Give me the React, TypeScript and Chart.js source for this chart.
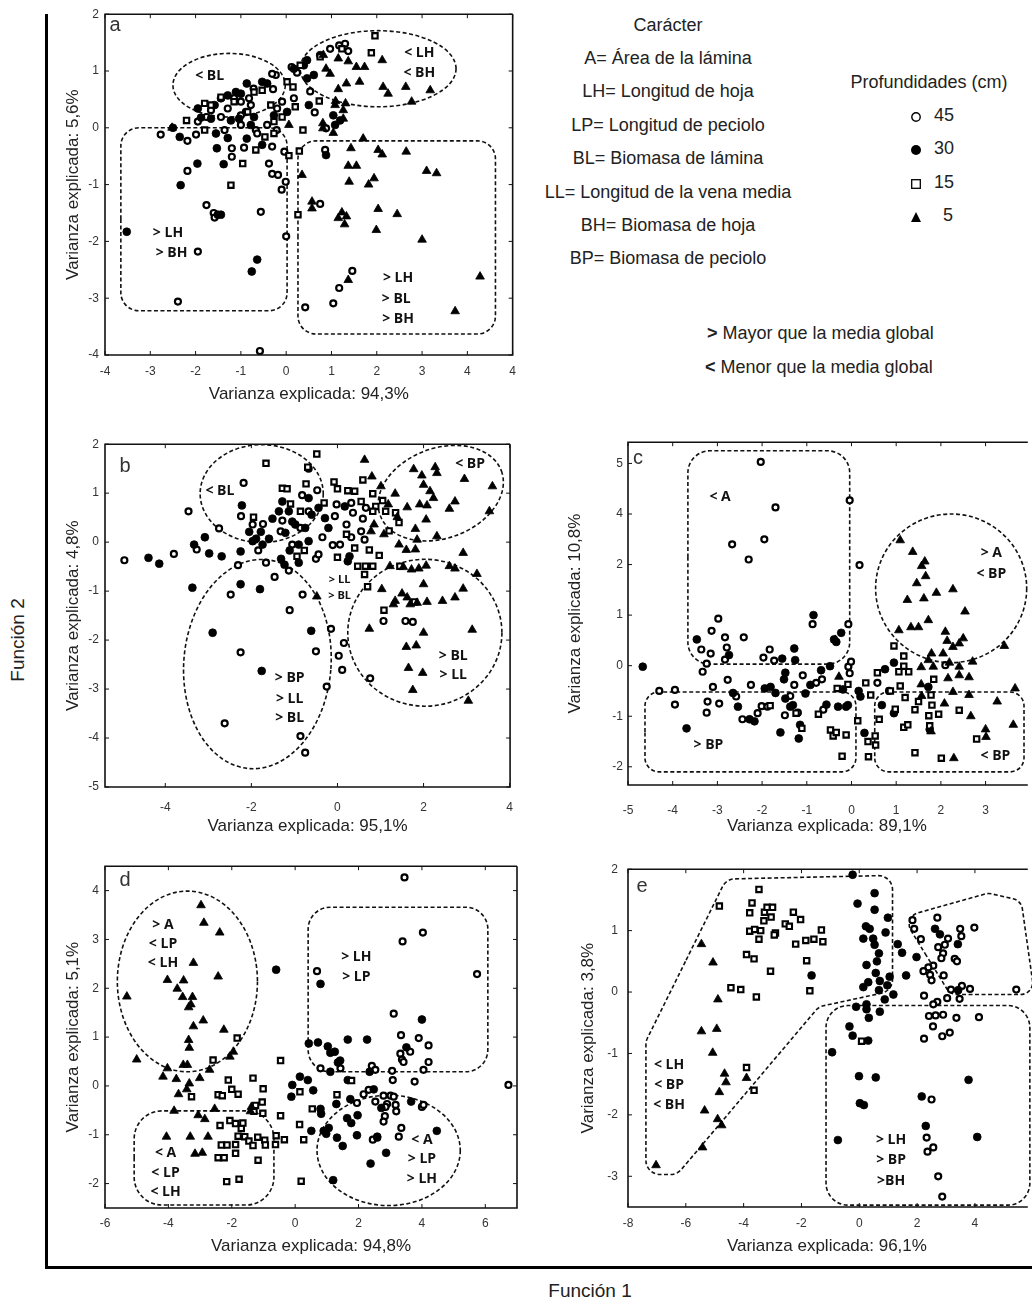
import React, { useEffect, useRef } from "react";
import { Chart, registerables } from "chart.js";

Chart.register(...registerables);

type P = [number, number];

const FONT = "'Liberation Sans', Arial, Helvetica, sans-serif";
const LABEL_FONT = "'Open Sans', 'DejaVu Sans', sans-serif";
const TITLE_SIZE = 17;
const TITLE_LH = Math.round(TITLE_SIZE * 1.2);
const PAD_TOP = 12;

// ---------------- Panel a ----------------
const aXTicks = [-4, -3, -2, -1, 0, 1, 2, 3, 4, 5];
const aXTickLabels = ["-4", "-3", "-2", "-1", "0", "1", "2", "3", "4", "4"];
const aYTicks = [-4, -3, -2, -1, 0, 1, 2];
const aYTickLabels = ["-4", "-3", "-2", "-1", "0", "1", "2"];
const a45: P[] = [[-2.77,-0.12],[-2.18,-0.23],[-2.18,-0.76],[-1.76,-1.36],[-1.6,-1.5],[-1.58,-1.58],[-1.95,-2.18],[-2.39,-3.06],[-1.2,-0.36],[-1.2,-0.51],[-0.93,-0.35],[-0.67,-0.04],[-0.56,-1.48],[-0.58,-3.93],[-0.38,-0.63],[-0.31,-0.33],[-0.31,-0.81],[-0.18,-0.83],[-0.1,-1.09],[-0.01,-0.95],[-0.04,-0.42],[0.0,-1.91],[0.42,-3.16],[0.75,-1.34],[0.86,-0.39],[1.17,-2.82],[1.04,-3.09],[1.46,-2.52],[0.88,-0.01],[0.63,0.27],[0.53,0.64],[0.17,0.52],[0.12,1.07],[0.24,0.97],[-0.23,0.93],[-0.31,0.95],[-0.09,0.46],[-0.2,0.34],[-0.29,0.68],[-0.72,0.69],[-0.82,0.52],[-0.89,0.28],[-0.78,0.4],[-1.0,0.46],[-1.15,0.52],[-1.29,0.34],[-1.44,0.19],[-1.66,0.31],[-1.76,0.19],[-1.95,0.11],[-1.99,-0.12],[-1.0,0.05],[0.97,1.39],[1.17,1.45],[1.3,1.48],[1.37,1.35],[-0.42,0.05],[-0.64,-0.1],[-1.0,0.22],[-0.21,-0.04],[-1.36,-0.04]];
const a30: P[] = [[-3.52,-1.83],[-2.33,-1.01],[-1.96,-0.63],[-2.35,-0.16],[-2.5,0.0],[-1.53,-0.36],[-1.44,-1.53],[-1.51,-1.53],[-1.38,-0.64],[-1.29,-0.18],[-1.55,-0.1],[-0.64,-2.32],[-0.76,-2.53],[-0.87,-0.19],[-0.53,-0.3],[-1.95,0.34],[-1.88,0.18],[-1.66,0.16],[-1.44,0.52],[-1.29,0.57],[-1.11,0.63],[-1.0,0.6],[-0.87,0.78],[-1.04,0.16],[-0.71,0.19],[-0.53,0.81],[-0.42,0.78],[-0.27,0.22],[0.02,0.28],[0.17,1.04],[0.39,1.1],[0.46,1.19],[0.61,0.93],[0.5,0.4],[0.88,-0.48],[1.04,0.22],[1.19,0.13],[1.08,0.05],[0.75,1.28],[0.46,0.87],[-0.78,0.05],[-1.22,0.13],[-1.58,0.4]];
const a15: P[] = [[-2.2,0.13],[-1.8,0.43],[-1.8,-0.04],[-1.44,0.54],[-1.22,-1.01],[-0.96,-0.63],[-0.67,-0.39],[-0.47,-0.16],[-0.27,-0.1],[-0.27,0.11],[-0.09,0.19],[0.06,-0.49],[0.29,-0.41],[0.26,-1.53],[0.37,-0.04],[0.2,0.37],[0.15,0.72],[0.31,1.1],[0.73,0.47],[0.75,1.25],[1.88,1.32],[1.23,1.39],[1.96,1.62],[-0.53,0.66],[-1.15,0.46],[-1.66,0.4],[-0.85,0.28],[-0.34,0.4],[-0.71,0.63],[0.02,0.81]];
const a5: P[] = [[-2.52,0.0],[0.06,0.05],[0.35,-0.83],[0.57,-1.3],[0.57,-1.42],[0.81,0.08],[0.81,-0.01],[1.04,-0.09],[1.26,0.31],[1.31,0.43],[1.09,0.47],[1.15,0.68],[1.33,0.78],[1.15,1.22],[0.88,1.04],[0.97,0.95],[0.82,1.28],[1.37,1.17],[1.55,1.07],[1.73,1.07],[1.62,0.81],[2.14,0.72],[2.25,0.6],[2.64,0.72],[2.77,0.46],[3.18,0.66],[2.12,1.19],[1.7,-0.19],[1.43,-0.36],[1.39,-0.95],[1.37,-0.67],[1.55,-0.67],[2.03,-0.39],[2.12,-0.47],[2.65,-0.42],[1.94,-0.89],[1.82,-1.0],[3.1,-0.76],[3.32,-0.8],[2.03,-1.43],[2.45,-1.52],[1.99,-1.8],[3.0,-1.97],[1.23,-1.49],[1.33,-1.56],[1.29,-1.7],[1.15,-1.59],[1.37,-2.68],[4.28,-2.62],[3.73,-3.23],[1.08,0.4],[1.26,0.16]];

// ---------------- Panel b ----------------
const bXTicks = [-4, -2, 0, 2, 4];
const bXTickLabels = ["-4", "-2", "0", "2", "4"];
const bYTicks = [-5, -4, -3, -2, -1, 0, 1, 2];
const bYTickLabels = ["-5", "-4", "-3", "-2", "-1", "0", "1", "2"];
const b45: P[] = [[-4.95,-0.37],[-3.8,-0.24],[-3.46,0.63],[-3.27,-0.15],[-2.75,0.28],[-2.24,0.53],[-2.18,1.21],[-2.31,-0.47],[-2.48,-1.07],[-2.25,-2.25],[-2.62,-3.7],[-1.84,-0.17],[-1.66,-0.42],[-1.46,-0.71],[-1.13,-0.58],[-1.11,-1.39],[-0.81,-1.07],[-0.86,-3.96],[-0.75,-4.3],[-0.5,-2.23],[-0.25,-2.95],[-0.15,-1.77],[0.03,-2.32],[0.15,-2.06],[0.11,-2.61],[-0.5,-0.34],[-0.44,-0.25],[-0.35,0.1],[-0.11,-0.06],[0.06,-0.05],[0.76,-2.78],[1.75,-1.63],[1.58,-1.61],[1.07,-1.61],[-0.67,1.5],[-0.82,0.96],[-0.47,1.06],[-0.67,0.63],[-0.86,0.29],[-1.28,0.44],[-1.32,0.22],[-1.73,0.37],[-1.97,0.36],[0.32,0.8],[0.36,0.6],[0.59,0.48],[0.55,0.22],[0.63,0.05],[0.32,0.1],[-0.06,0.53],[-0.02,0.77],[0.66,0.7],[0.21,0.36],[-1.05,-0.05]];
const b30: P[] = [[-4.39,-0.32],[-4.14,-0.44],[-3.37,-0.93],[-3.33,-0.05],[-3.08,0.1],[-2.98,-0.23],[-2.9,-1.85],[-2.25,-0.19],[-2.25,-0.86],[-2.22,0.75],[-1.8,-0.96],[-1.76,-2.63],[-1.31,-0.34],[-1.23,-0.46],[-0.61,-1.81],[-0.9,-0.42],[-0.67,0.02],[-1.11,-0.17],[-2.05,0.21],[-1.89,0.07],[-1.74,-0.05],[-1.51,0.48],[-1.28,0.83],[-1.13,0.63],[-0.98,0.36],[-0.75,0.29],[-0.6,0.56],[-0.44,0.7],[-0.29,0.49],[-1.21,0.19],[-1.59,0.07],[-1.78,0.21],[-0.21,0.29],[-0.9,-0.05],[-0.67,0.9],[-1.36,0.63],[-1.05,0.42],[-1.97,0.02],[0.17,0.73],[0.24,-0.39],[0.28,-0.29],[-2.69,-0.29]];
const b15: P[] = [[-1.66,1.61],[-0.48,1.8],[-0.69,1.53],[-0.73,1.19],[-1.28,1.1],[-1.17,1.09],[-1.09,0.78],[-1.95,0.51],[-0.86,0.63],[-0.31,0.8],[-0.08,1.23],[0.0,1.09],[0.24,1.05],[0.4,1.04],[0.59,1.27],[0.82,0.99],[1.05,0.85],[0.89,0.73],[0.82,0.63],[1.12,0.63],[1.35,0.6],[1.43,0.4],[1.2,0.23],[0.21,0.16],[0.4,-0.12],[0.0,-0.31],[0.47,-0.49],[0.65,-0.49],[0.63,-0.66],[0.82,-0.49],[0.97,-0.27],[0.74,-0.16],[0.7,-0.91],[1.08,-1.39],[1.79,-1.22],[1.45,-0.49],[-0.77,-0.17],[-0.94,-0.29],[0.55,0.83]];
const b5: P[] = [[0.63,1.68],[0.8,1.34],[1.01,1.14],[1.34,0.99],[1.18,0.77],[1.39,0.51],[1.62,0.71],[1.77,1.49],[1.96,1.36],[2.0,1.17],[2.27,1.53],[2.31,1.41],[2.15,1.04],[2.23,0.9],[1.91,0.77],[2.08,0.75],[2.06,0.46],[2.6,0.68],[2.73,0.83],[2.95,1.29],[3.6,1.14],[3.53,0.63],[2.31,0.12],[1.81,0.27],[1.85,0.05],[1.43,-0.05],[1.6,-0.16],[1.81,-0.15],[2.92,-0.22],[1.22,-0.49],[1.53,-0.51],[1.72,-0.56],[1.89,-0.54],[2.06,-0.48],[2.6,-0.49],[2.73,-0.54],[3.24,-0.65],[2.92,-0.95],[2.0,-0.86],[1.03,-0.96],[1.34,-1.2],[1.5,-1.05],[1.62,-1.13],[1.69,-1.27],[1.85,-1.24],[2.08,-1.22],[2.44,-1.2],[2.73,-1.13],[1.3,-1.27],[0.74,-1.77],[2.0,-1.85],[3.13,-1.79],[1.6,-2.14],[1.83,-2.11],[1.65,-2.57],[1.98,-2.67],[1.75,-3.02],[3.04,-3.24],[-0.48,-1.11],[0.85,0.36],[1.08,0.16],[0.78,0.22]];

// ---------------- Panel c ----------------
const cXTicks = [-5, -4, -3, -2, -1, 0, 1, 2, 3];
const cXTickLabels = ["-5", "-4", "-3", "-2", "-1", "0", "1", "2", "3"];
const cYTicks = [-2, -1, 0, 1, 2, 3, 4];
const cYTickLabels = ["-2", "-1", "0", "1", "2", "4", "5"];
const c45: P[] = [[-4.3,-0.5],[-3.95,-0.48],[-3.95,-0.77],[-3.36,0.32],[-3.33,-0.12],[-3.24,0.04],[-3.24,-0.93],[-3.22,-0.71],[-3.1,-0.42],[-3.15,0.24],[-3.13,0.69],[-2.98,0.93],[-2.96,-0.75],[-2.83,0.56],[-2.79,0.36],[-2.83,0.12],[-2.77,-0.28],[-2.58,-0.61],[-2.44,-1.06],[-2.41,0.56],[-2.25,-0.38],[-2.1,-0.94],[-2.01,-0.8],[-1.97,0.16],[-1.83,0.32],[-1.73,0.1],[-1.49,-0.98],[-1.37,-0.6],[-1.28,-0.38],[-1.2,-0.93],[-1.09,-0.19],[-0.79,-0.34],[-0.66,-0.27],[-0.63,-0.87],[-0.87,0.82],[-0.07,0.82],[-0.04,3.27],[-1.7,3.13],[-1.95,2.5],[-2.67,2.4],[-2.3,2.1],[-2.03,4.03],[0.18,1.99],[-0.07,-0.02],[-0.04,-0.15],[-0.01,0.08],[0.58,-0.34],[0.84,-0.5],[2.1,0.01],[-1.88,-0.81]];
const c30: P[] = [[-4.67,-0.02],[-3.69,-1.24],[-3.46,0.52],[-2.74,0.21],[-2.65,-0.54],[-2.54,-0.81],[-2.28,-1.06],[-2.17,-1.1],[-1.94,-0.45],[-1.81,-0.42],[-1.7,-0.54],[-1.59,-1.32],[-1.55,0.14],[-1.48,-0.14],[-1.51,-0.27],[-1.48,-0.65],[-1.37,-0.81],[-1.31,-0.78],[-1.28,0.34],[-1.26,0.11],[-1.18,-1.44],[-1.15,-1.17],[-1.03,-0.55],[-0.92,-0.38],[-0.85,1.0],[-0.68,-0.09],[-0.56,-0.77],[-0.48,-0.01],[-0.39,0.52],[-0.34,0.47],[-0.23,0.65],[-0.3,-0.81],[-0.19,-0.47],[-0.12,-0.81],[-0.08,-0.78],[0.16,-0.5],[0.2,-0.61],[0.29,-1.33],[0.68,-0.78],[0.75,-0.07],[0.95,0.06],[0.95,-0.94],[1.72,-0.42],[1.75,-1.26]];
const c15: P[] = [[-1.82,-0.79],[-1.24,-0.94],[-1.11,-1.24],[-0.74,-0.96],[-0.47,-1.27],[-0.41,-1.39],[-0.34,-1.32],[-0.21,-1.79],[-0.12,-1.37],[-0.32,-0.45],[-0.08,-0.37],[0.14,-1.09],[0.37,-1.5],[0.38,-1.8],[0.53,-1.39],[0.54,-1.57],[0.62,-1.06],[0.43,-0.58],[0.32,-0.34],[0.58,-0.14],[0.87,-0.5],[0.98,-0.86],[1.09,-0.4],[0.95,0.39],[1.17,0.19],[1.06,-0.12],[1.28,-0.12],[1.17,-0.01],[1.2,-0.63],[1.17,-1.22],[1.26,-1.17],[1.42,-0.87],[1.42,-1.72],[1.5,-0.71],[1.73,-0.99],[1.75,-1.19],[1.8,-0.78],[1.84,-0.27],[1.95,-0.96],[2.01,-1.83],[2.41,-0.88],[2.8,-1.45],[1.78,-0.58]];
const c5: P[] = [[1.09,2.48],[1.37,2.25],[1.57,1.97],[1.64,2.06],[1.66,1.77],[1.46,1.63],[1.62,1.33],[1.25,1.3],[1.9,1.44],[2.27,1.51],[2.54,1.07],[1.06,0.7],[1.33,0.76],[1.5,0.76],[1.72,0.9],[2.1,0.67],[2.14,0.49],[2.41,0.44],[2.5,0.54],[2.27,0.37],[2.05,0.24],[1.79,0.24],[1.72,0.11],[1.56,-0.03],[1.83,-0.02],[2.19,0.06],[2.71,0.08],[2.41,-0.02],[2.41,-0.19],[2.16,-0.25],[2.63,-0.23],[3.42,0.39],[3.66,-0.45],[3.26,-0.71],[3.62,-1.17],[3.0,-1.26],[3.01,-1.41],[2.67,-1.0],[2.29,-1.83],[1.56,-0.37],[1.57,-0.6],[2.08,-0.75],[2.27,-0.52],[2.63,-0.58],[1.78,-1.3],[-0.28,-0.22],[-0.36,0.51]];

// ---------------- Panel d ----------------
const dXTicks = [-6, -4, -2, 0, 2, 4, 6];
const dXTickLabels = ["-6", "-4", "-2", "0", "2", "4", "6"];
const dYTicks = [-2, -1, 0, 1, 2, 3, 4];
const dYTickLabels = ["-2", "-1", "0", "1", "2", "3", "4"];
const d45: P[] = [[3.45,4.27],[4.03,3.14],[3.39,2.96],[0.69,2.35],[5.74,2.29],[6.73,0.02],[3.11,1.48],[3.34,1.04],[3.9,0.98],[4.21,0.83],[3.32,0.66],[3.37,0.54],[3.63,0.7],[3.42,0.49],[4.21,0.49],[4.05,0.33],[3.06,0.31],[3.08,0.12],[3.77,0.09],[2.42,0.41],[2.53,0.33],[2.32,-0.08],[2.16,-0.17],[1.95,-0.35],[2.53,-0.32],[2.79,-0.2],[2.9,-0.37],[2.85,-0.43],[3.01,-0.2],[3.11,-0.22],[3.17,-0.39],[3.19,-0.52],[2.83,-0.62],[2.79,-0.73],[3.35,-0.86],[4.0,-0.43],[4.05,-0.39],[3.27,-1.04],[2.45,-1.1],[2.59,-1.06],[0.8,0.36],[1.43,0.36]];
const d30: P[] = [[-0.6,2.38],[0.8,2.09],[-0.09,0.02],[-0.12,-0.22],[0.15,0.19],[0.4,0.12],[0.57,-0.09],[0.43,0.87],[0.72,0.89],[0.8,-0.47],[0.82,-0.57],[0.51,-0.92],[0.9,-0.92],[0.98,-0.98],[1.06,-0.86],[1.03,0.81],[1.11,0.68],[1.25,0.7],[1.11,0.29],[1.3,-0.37],[1.32,-1.06],[1.35,0.48],[1.42,0.52],[1.2,-1.93],[1.5,-1.23],[1.66,0.95],[1.66,0.12],[1.64,-0.66],[1.77,-0.76],[1.74,-0.27],[1.97,-0.6],[1.95,-1.01],[2.27,0.95],[2.35,0.29],[2.38,-1.59],[2.48,-0.07],[2.59,-1.04],[2.72,-0.45],[2.87,-1.37],[3.51,0.79],[3.66,-0.32],[4.0,1.36],[4.47,-0.92]];
const d15: P[] = [[-3.27,-0.22],[-2.59,0.53],[-2.43,-0.18],[-2.37,-0.81],[-2.3,-0.2],[-2.33,-1.21],[-2.43,-1.47],[-2.24,-1.47],[-2.16,-1.96],[-2.11,0.12],[-2.0,-0.07],[-1.8,-0.17],[-1.83,0.98],[-2.06,-0.71],[-1.88,-1.2],[-1.88,-1.38],[-1.88,-0.77],[-1.77,-1.91],[-1.7,-0.87],[-1.65,-0.76],[-1.8,-1.03],[-1.59,-1.04],[-1.46,-1.13],[-1.33,0.16],[-1.3,-0.52],[-1.25,-0.4],[-1.33,-1.22],[-1.17,-1.52],[-1.18,-1.05],[-1.04,-0.33],[-1.02,-0.56],[-1.01,-0.06],[-0.96,-1.11],[-0.94,-1.21],[-0.62,-1.2],[-0.6,-1.02],[-0.46,0.52],[-0.46,-0.61],[-0.34,-1.1],[0.15,-0.12],[0.14,-0.79],[0.27,-1.1],[0.19,-1.95],[0.54,-0.47],[1.32,-0.18],[1.78,0.11],[-2.15,-1.21]];
const d5: P[] = [[-5.31,1.83],[-5.0,0.54],[-4.03,2.17],[-4.03,0.36],[-4.17,0.19],[-4.06,-1.04],[-3.82,-0.51],[-3.75,0.14],[-3.72,1.99],[-3.68,-0.17],[-3.55,1.82],[-3.53,0.43],[-3.52,2.16],[-3.4,0.43],[-3.42,-0.07],[-3.36,1.61],[-3.34,0.05],[-3.34,0.78],[-3.36,0.94],[-3.29,1.67],[-3.31,-1.04],[-3.24,1.82],[-3.21,2.52],[-3.21,1.22],[-3.16,-1.39],[-3.06,-0.6],[-3.01,0.16],[-2.93,-1.37],[-2.9,1.34],[-2.88,3.34],[-2.97,3.7],[-2.85,-0.68],[-2.75,-1.04],[-2.7,0.33],[-2.54,-0.47],[-2.43,2.24],[-2.38,3.14],[-2.25,1.15],[-2.06,0.6],[-1.95,0.7],[-1.41,-0.52],[-1.38,-0.43]];

// ---------------- Panel e ----------------
const eXTicks = [-8, -6, -4, -2, 0, 2, 4];
const eXTickLabels = ["-8", "-6", "-4", "-2", "0", "2", "4"];
const eYTicks = [-3, -2, -1, 0, 1, 2];
const eYTickLabels = ["-3", "-2", "-1", "0", "1", "2"];
const e45: P[] = [[1.84,1.17],[1.9,1.03],[2.13,0.86],[2.7,1.21],[3.49,1.03],[3.98,1.05],[3.53,0.91],[3.07,0.87],[2.96,0.77],[2.73,0.73],[2.9,0.63],[2.84,0.55],[3.3,0.54],[3.38,0.5],[2.56,0.43],[2.39,0.4],[2.22,0.34],[2.45,0.28],[2.5,0.19],[2.92,0.27],[3.17,0.04],[3.55,0.1],[3.83,0.05],[5.43,0.04],[2.24,-0.06],[3.04,-0.1],[3.47,-0.11],[2.7,-0.16],[2.56,-0.2],[2.41,-0.39],[2.64,-0.38],[2.9,-0.37],[3.36,-0.42],[4.14,-0.41],[2.55,-0.56],[3.13,-0.66],[2.87,-0.72],[2.24,-0.76],[2.5,-1.75],[2.33,-2.37],[2.56,-2.53],[2.36,-2.6],[2.73,-3.0],[2.87,-3.33]];
const e30: P[] = [[-0.23,1.91],[-0.06,1.44],[0.53,1.61],[0.53,1.34],[0.99,1.21],[0.91,0.97],[0.23,1.07],[0.36,1.03],[0.14,0.87],[0.48,0.87],[0.53,0.77],[0.68,0.63],[0.61,0.5],[0.25,0.44],[0.57,0.31],[1.05,0.25],[0.31,0.16],[0.71,0.18],[0.14,0.08],[0.97,0.11],[0.68,0.03],[1.18,-0.04],[0.88,-0.12],[0.25,-0.2],[-0.11,-0.24],[0.25,-0.28],[0.71,-0.32],[0.33,-0.42],[-0.34,-0.56],[-0.23,-0.71],[0.31,-0.79],[-0.94,-0.98],[-0.01,-1.37],[0.57,-1.39],[0.02,-1.81],[0.16,-1.84],[-0.74,-2.41],[1.33,0.78],[1.48,0.64],[1.62,0.27],[1.98,0.57],[2.62,1.03],[2.79,0.94],[3.41,0.78],[3.42,0.03],[2.16,-1.7],[2.3,-2.18],[3.78,-1.43],[4.08,-2.36],[-1.65,0.27]];
const e15: P[] = [[-4.84,1.4],[-3.47,1.67],[-3.71,1.45],[-3.79,1.29],[-3.28,1.3],[-3.19,1.38],[-3.0,1.38],[-3.05,1.22],[-3.3,1.16],[-3.79,0.99],[-3.62,1.02],[-3.41,1.0],[-3.47,0.86],[-2.9,0.96],[-2.94,0.93],[-2.56,1.11],[-2.42,1.07],[-2.28,1.3],[-2.03,1.18],[-2.2,0.78],[-1.85,0.84],[-1.57,0.86],[-1.31,1.01],[-1.26,0.82],[-1.82,0.51],[-3.9,0.61],[-3.64,0.54],[-3.07,0.34],[-4.44,0.07],[-4.1,0.04],[-3.56,-0.08],[-1.71,0.02],[-3.9,-1.23],[-3.64,-1.6],[0.08,-0.8]];
const e5: P[] = [[-7.03,-2.82],[-5.46,0.78],[-5.06,0.48],[-4.89,-0.12],[-5.46,-0.64],[-4.93,-0.6],[-5.07,-0.99],[-4.66,-1.33],[-4.61,-1.47],[-4.84,-1.63],[-5.35,-1.93],[-4.9,-2.07],[-4.76,-2.17],[-5.42,-2.53],[-3.9,-1.4]];

// ---------------- Annotations (data units) ----------------
type Shape =
  | { k: "e"; cx: number; cy: number; rx: number; ry: number; rot?: number }
  | { k: "r"; x0: number; x1: number; y0: number; y1: number; rad: number }
  | { k: "p"; pts: P[]; rad: number };
type Lbl = { x: number; y: number; t: string; s?: number };

const aShapes: Shape[] = [
  { k: "e", cx: -1.26, cy: 0.75, rx: 1.24, ry: 0.56 },
  { k: "e", cx: 2.03, cy: 1.04, rx: 1.72, ry: 0.67 },
  { k: "r", x0: -3.65, x1: 0.02, y0: 0.0, y1: -3.22, rad: 18 },
  { k: "r", x0: 0.26, x1: 4.62, y0: -0.23, y1: -3.63, rad: 18 },
];
const aLabels: Lbl[] = [
  { x: -1.69, y: 0.91, t: "< BL" }, { x: 2.94, y: 1.31, t: "< LH" }, { x: 2.94, y: 0.97, t: "< BH" },
  { x: -2.61, y: -1.86, t: "> LH" }, { x: -2.53, y: -2.21, t: "> BH" },
  { x: 2.47, y: -2.65, t: "> LH" }, { x: 2.43, y: -3.02, t: "> BL" }, { x: 2.47, y: -3.37, t: "> BH" },
];
const bShapes: Shape[] = [
  { k: "e", cx: -1.76, cy: 0.99, rx: 1.43, ry: 1.0 },
  { k: "e", cx: 2.4, cy: 1.0, rx: 1.5, ry: 0.92, rot: -0.35 },
  { k: "e", cx: -1.86, cy: -2.49, rx: 1.71, ry: 2.14, rot: 0.08 },
  { k: "e", cx: 2.03, cy: -1.85, rx: 1.79, ry: 1.5 },
];
const bLabels: Lbl[] = [
  { x: -2.73, y: 1.04, t: "< BL" }, { x: 3.08, y: 1.59, t: "< BP" },
  { x: 0.05, y: -0.76, t: "> LL", s: 11 }, { x: 0.05, y: -1.1, t: "> BL", s: 11 },
  { x: -1.11, y: -2.78, t: "> BP" }, { x: -1.11, y: -3.2, t: "> LL" }, { x: -1.11, y: -3.59, t: "> BL" },
  { x: 2.69, y: -2.32, t: "> BL" }, { x: 2.69, y: -2.71, t: "> LL" },
];
const cShapes: Shape[] = [
  { k: "r", x0: -3.66, x1: -0.04, y0: 4.25, y1: 0.03, rad: 22 },
  { k: "e", cx: 2.23, cy: 1.53, rx: 1.69, ry: 1.47 },
  { k: "r", x0: -4.62, x1: 0.1, y0: -0.52, y1: -2.1, rad: 14 },
  { k: "r", x0: 0.52, x1: 3.86, y0: -0.52, y1: -2.1, rad: 14 },
];
const cLabels: Lbl[] = [
  { x: -2.94, y: 3.34, t: "< A" }, { x: 3.13, y: 2.22, t: "> A" }, { x: 3.13, y: 1.82, t: "< BP" },
  { x: -3.2, y: -1.57, t: "> BP" }, { x: 3.22, y: -1.79, t: "< BP" },
];
const dShapes: Shape[] = [
  { k: "e", cx: -3.4, cy: 2.14, rx: 2.21, ry: 1.85 },
  { k: "r", x0: 0.41, x1: 6.08, y0: 3.66, y1: 0.29, rad: 22 },
  { k: "r", x0: -5.08, x1: -0.67, y0: -0.51, y1: -2.44, rad: 28 },
  { k: "e", cx: 2.95, cy: -1.32, rx: 2.26, ry: 1.13 },
];
const dLabels: Lbl[] = [
  { x: -4.17, y: 3.29, t: "> A" }, { x: -4.17, y: 2.9, t: "< LP" }, { x: -4.17, y: 2.51, t: "< LH" },
  { x: 1.93, y: 2.64, t: "> LH" }, { x: 1.93, y: 2.24, t: "> LP" },
  { x: -4.09, y: -1.38, t: "< A" }, { x: -4.09, y: -1.78, t: "< LP" }, { x: -4.09, y: -2.18, t: "< LH" },
  { x: 4.0, y: -1.1, t: "< A" }, { x: 4.0, y: -1.49, t: "> LP" }, { x: 4.0, y: -1.9, t: "> LH" },
];
const eShapes: Shape[] = [
  { k: "p", rad: 14, pts: [[-4.6, 1.84], [1.15, 1.9], [1.15, 0.02], [-1.4, -0.24], [-6.3, -2.97], [-7.38, -2.97], [-7.38, -0.8]] },
  { k: "p", rad: 12, pts: [[1.5, 1.22], [4.46, 1.61], [5.6, 1.49], [6.06, -0.04], [3.15, -0.04]] },
  { k: "r", x0: -1.15, x1: 5.9, y0: -0.22, y1: -3.47, rad: 22 },
];
const eLabels: Lbl[] = [
  { x: -6.58, y: -1.19, t: "< LH" }, { x: -6.58, y: -1.51, t: "< BP" }, { x: -6.58, y: -1.84, t: "< BH" },
  { x: 1.1, y: -2.41, t: "> LH" }, { x: 1.1, y: -2.73, t: "> BP" }, { x: 1.1, y: -3.07, t: ">BH" },
];

// ---------------- Legend text ----------------
const legendTitle = "Carácter";
const legendItems = [
  "A= Área de la lámina",
  "LH= Longitud de hoja",
  "LP= Longitud de peciolo",
  "BL= Biomasa de lámina",
  "LL= Longitud de la vena media",
  "BH= Biomasa de hoja",
  "BP= Biomasa de peciolo",
];
const depthTitle = "Profundidades (cm)";
const depthLabels = ["45", "30", "15", "5"];

type PanelSpec = {
  letter: string; l: number; t: number; r: number; b: number;
  xMin: number; xMax: number; yMin: number; yMax: number;
  xTicks: number[]; xLabels: string[]; yTicks: number[]; yLabels: string[];
  xTitle: string; yTitle: string;
  yTitleOff: number; xTitleOff: number; xTickPad: number; yTickPad: number;
  padRight: number; frameRight: boolean; ldx: number; ldy: number;
  s45: P[]; s30: P[]; s15: P[]; s5: P[]; shapes: Shape[]; labels: Lbl[];
};

const panels: PanelSpec[] = [
  { letter: "a", l: 105, t: 13, r: 515, b: 355, xMin: -4, xMax: 5, yMin: -4, yMax: 2,
    xTicks: aXTicks, xLabels: aXTickLabels, yTicks: aYTicks, yLabels: aYTickLabels,
    xTitle: "Varianza explicada: 94,3%", yTitle: "Varianza explicada: 5,6%",
    yTitleOff: 32, xTitleOff: 40, xTickPad: 9, yTickPad: 6, padRight: 10, frameRight: true, ldx: 10, ldy: 11,
    s45: a45, s30: a30, s15: a15, s5: a5, shapes: aShapes, labels: aLabels },
  { letter: "b", l: 105, t: 443, r: 516, b: 787, xMin: -5.4, xMax: 4.01, yMin: -5, yMax: 2,
    xTicks: bXTicks, xLabels: bXTickLabels, yTicks: bYTicks, yLabels: bYTickLabels,
    xTitle: "Varianza explicada: 95,1%", yTitle: "Varianza explicada: 4,8%",
    yTitleOff: 32, xTitleOff: 40, xTickPad: 13, yTickPad: 6, padRight: 10, frameRight: true, ldx: 20, ldy: 22,
    s45: b45, s30: b30, s15: b15, s5: b5, shapes: bShapes, labels: bLabels },
  { letter: "c", l: 628, t: 442, r: 1032, b: 785, xMin: -5, xMax: 3.9, yMin: -2.36, yMax: 4.42,
    xTicks: cXTicks, xLabels: cXTickLabels, yTicks: cYTicks, yLabels: cYTickLabels,
    xTitle: "Varianza explicada: 89,1%", yTitle: "Varianza explicada: 10,8%",
    yTitleOff: 53, xTitleOff: 42, xTickPad: 18, yTickPad: 5, padRight: 0, frameRight: false, ldx: 10, ldy: 16,
    s45: c45, s30: c30, s15: c15, s5: c5, shapes: cShapes, labels: cLabels },
  { letter: "d", l: 105, t: 865, r: 517, b: 1208, xMin: -6, xMax: 7, yMin: -2.5, yMax: 4.5,
    xTicks: dXTicks, xLabels: dXTickLabels, yTicks: dYTicks, yLabels: dYTickLabels,
    xTitle: "Varianza explicada: 94,8%", yTitle: "Varianza explicada: 5,1%",
    yTitleOff: 32, xTitleOff: 39, xTickPad: 8, yTickPad: 6, padRight: 10, frameRight: true, ldx: 20, ldy: 14,
    s45: d45, s30: d30, s15: d15, s5: d5, shapes: dShapes, labels: dLabels },
  { letter: "e", l: 628, t: 864, r: 1032, b: 1207, xMin: -8, xMax: 5.76, yMin: -3.5, yMax: 2,
    xTicks: eXTicks, xLabels: eXTickLabels, yTicks: eYTicks, yLabels: eYTickLabels,
    xTitle: "Varianza explicada: 96,1%", yTitle: "Varianza explicada: 3,8%",
    yTitleOff: 40, xTitleOff: 40, xTickPad: 9, yTickPad: 10, padRight: 0, frameRight: false, ldx: 14, ldy: 17,
    s45: e45, s30: e30, s15: e15, s5: e5, shapes: eShapes, labels: eLabels },
];

function roundedPoly(ctx: CanvasRenderingContext2D, pts: P[], r: number) {
  const n = pts.length;
  const a = pts[n - 1], b0 = pts[0];
  ctx.beginPath();
  ctx.moveTo((a[0] + b0[0]) / 2, (a[1] + b0[1]) / 2);
  for (let i = 0; i < n; i++) {
    const p = pts[i], q = pts[(i + 1) % n];
    ctx.arcTo(p[0], p[1], q[0], q[1], r);
  }
  ctx.closePath();
  ctx.stroke();
}

function makePlugin(spec: PanelSpec) {
  return {
    id: "decor" + spec.letter,
    beforeDatasetsDraw(chart: any) {
      const { ctx } = chart;
      const xs = chart.scales.x, ys = chart.scales.y;
      const px = (v: number) => xs.getPixelForValue(v);
      const py = (v: number) => ys.getPixelForValue(v);
      ctx.save();
      ctx.setLineDash([4, 2.5]);
      ctx.lineWidth = 1.6;
      ctx.strokeStyle = "#111";
      for (const s of spec.shapes) {
        if (s.k === "e") {
          const cx = px(s.cx), cy = py(s.cy);
          const rx = Math.abs(px(s.cx + s.rx) - cx), ry = Math.abs(py(s.cy + s.ry) - cy);
          ctx.beginPath();
          ctx.ellipse(cx, cy, rx, ry, s.rot || 0, 0, Math.PI * 2);
          ctx.stroke();
        } else if (s.k === "r") {
          const pts: P[] = [[px(s.x0), py(s.y0)], [px(s.x1), py(s.y0)], [px(s.x1), py(s.y1)], [px(s.x0), py(s.y1)]];
          roundedPoly(ctx, pts, s.rad);
        } else {
          roundedPoly(ctx, s.pts.map((p) => [px(p[0]), py(p[1])] as P), s.rad);
        }
      }
      ctx.restore();
    },
    afterDatasetsDraw(chart: any) {
      const { ctx, chartArea: ca } = chart;
      const xs = chart.scales.x, ys = chart.scales.y;
      ctx.save();
      ctx.strokeStyle = "#111";
      ctx.lineWidth = 1.6;
      ctx.beginPath();
      ctx.moveTo(ca.right + (spec.frameRight ? 0 : 2), ca.top);
      ctx.lineTo(ca.left, ca.top);
      ctx.lineTo(ca.left, ca.bottom);
      ctx.lineTo(ca.right + (spec.frameRight ? 0 : 2), ca.bottom);
      if (spec.frameRight) { ctx.lineTo(ca.right, ca.top); }
      ctx.stroke();
      ctx.lineWidth = 1;
      ctx.beginPath();
      spec.xTicks.forEach((v) => {
        const x = xs.getPixelForValue(v);
        ctx.moveTo(x, ca.bottom); ctx.lineTo(x, ca.bottom - 4);
        ctx.moveTo(x, ca.top); ctx.lineTo(x, ca.top + 4);
      });
      spec.yTicks.forEach((v) => {
        const y = ys.getPixelForValue(v);
        ctx.moveTo(ca.left, y); ctx.lineTo(ca.left + 4, y);
        if (spec.frameRight) { ctx.moveTo(ca.right, y); ctx.lineTo(ca.right - 4, y); }
      });
      ctx.stroke();
      ctx.fillStyle = "#111";
      ctx.textAlign = "center";
      ctx.textBaseline = "middle";
      for (const lb of spec.labels) {
        ctx.font = `bold ${lb.s || 14}px ${LABEL_FONT}`;
        ctx.fillText(lb.t, xs.getPixelForValue(lb.x), ys.getPixelForValue(lb.y));
      }
      ctx.fillStyle = "#333";
      ctx.font = `20px ${FONT}`;
      ctx.fillText(spec.letter, ca.left + spec.ldx, ca.top + spec.ldy);
      ctx.restore();
    },
  };
}

const toXY = (arr: P[]) => arr.map((p) => ({ x: p[0], y: p[1] }));

function PanelChart({ spec }: { spec: PanelSpec }) {
  const ref = useRef<HTMLCanvasElement>(null);
  const W = Math.round(spec.yTitleOff + TITLE_LH / 2);
  const H = Math.round(spec.xTitleOff + TITLE_LH / 2);
  const cw = W + (spec.r - spec.l) + spec.padRight;
  const chh = PAD_TOP + (spec.b - spec.t) + H;
  useEffect(() => {
    const tickFont = { family: FONT, size: 12 };
    const titleFont = { family: FONT, size: TITLE_SIZE };
    const chart = new Chart(ref.current as HTMLCanvasElement, {
      type: "scatter",
      data: {
        datasets: [
          { label: "5", data: toXY(spec.s5), pointStyle: "triangle", pointRadius: 5, pointBackgroundColor: "#000", pointBorderColor: "#000", pointBorderWidth: 0.8 },
          { label: "15", data: toXY(spec.s15), pointStyle: "rect", pointRadius: 3.8, pointBackgroundColor: "#fff", pointBorderColor: "#000", pointBorderWidth: 2.1 },
          { label: "30", data: toXY(spec.s30), pointStyle: "circle", pointRadius: 3.9, pointBackgroundColor: "#000", pointBorderColor: "#000", pointBorderWidth: 0.8 },
          { label: "45", data: toXY(spec.s45), pointStyle: "circle", pointRadius: 3.0, pointBackgroundColor: "#fff", pointBorderColor: "#000", pointBorderWidth: 2.2 },
        ] as any,
      },
      options: {
        animation: false,
        responsive: false,
        devicePixelRatio: 1,
        events: [],
        layout: { padding: { top: PAD_TOP, right: spec.padRight, left: 0, bottom: 0 } },
        plugins: { legend: { display: false }, tooltip: { enabled: false } },
        scales: {
          x: {
            type: "linear", min: spec.xMin, max: spec.xMax,
            afterBuildTicks: (s: any) => { s.ticks = spec.xTicks.map((v) => ({ value: v })); },
            afterFit: (s: any) => { s.height = H; },
            ticks: { autoSkip: false, maxRotation: 0, padding: spec.xTickPad, font: tickFont, color: "#333",
              callback: (_v: any, i: number) => spec.xLabels[i] },
            grid: { display: false, drawTicks: false },
            border: { display: false },
            title: { display: true, text: spec.xTitle, font: titleFont, color: "#222", padding: 0 },
          },
          y: {
            type: "linear", min: spec.yMin, max: spec.yMax,
            afterBuildTicks: (s: any) => { s.ticks = spec.yTicks.map((v) => ({ value: v })); },
            afterFit: (s: any) => { s.width = W; },
            ticks: { autoSkip: false, padding: spec.yTickPad, font: tickFont, color: "#333",
              callback: (_v: any, i: number) => spec.yLabels[i] },
            grid: { display: false, drawTicks: false },
            border: { display: false },
            title: { display: true, text: spec.yTitle, font: titleFont, color: "#222", padding: 0 },
          },
        },
      } as any,
      plugins: [makePlugin(spec)],
    });
    return () => chart.destroy();
  }, []);
  return (
    <canvas
      ref={ref}
      width={cw}
      height={chh}
      style={{ position: "absolute", left: spec.l - W, top: spec.t - PAD_TOP, width: cw, height: chh }}
    />
  );
}

function Txt({ x, y, children, size = 18, anchor = "center", bold = false, rotate = false }: any) {
  const tx = anchor === "center" ? "-50%" : "0";
  return (
    <div
      style={{
        position: "absolute", left: x, top: y, whiteSpace: "nowrap", fontSize: size, lineHeight: 1,
        fontFamily: FONT, color: "#222", fontWeight: bold ? 700 : 400,
        transform: `translate(${tx}, -50%)${rotate ? " rotate(-90deg)" : ""}`,
        transformOrigin: rotate ? "center center" : undefined,
      }}
    >
      {children}
    </div>
  );
}

function Marker({ kind }: { kind: string }) {
  if (kind === "45") return <svg width="12" height="12"><circle cx="6" cy="6" r="4.2" fill="#fff" stroke="#000" strokeWidth="1.4" /></svg>;
  if (kind === "30") return <svg width="12" height="12"><circle cx="6" cy="6" r="5" fill="#000" /></svg>;
  if (kind === "15") return <svg width="12" height="12"><rect x="1.7" y="1.7" width="8.6" height="8.6" fill="#fff" stroke="#000" strokeWidth="1.3" /></svg>;
  return <svg width="12" height="12"><polygon points="6,1 11,11 1,11" fill="#000" /></svg>;
}

export default function App() {
  const depthY = [115, 148, 182, 215];
  return (
    <div style={{ position: "absolute", left: 0, top: 0, width: 1032, height: 1306, background: "#fff", overflow: "hidden" }}>
      {panels.map((p) => <PanelChart key={p.letter} spec={p} />)}
      {/* outer axes */}
      <div style={{ position: "absolute", left: 45, top: 14, width: 3, height: 1255, background: "#000" }} />
      <div style={{ position: "absolute", left: 45, top: 1266, width: 987, height: 3, background: "#000" }} />
      <Txt x={17} y={640} size={19} rotate>Función 2</Txt>
      <Txt x={590} y={1290} size={19}>Función 1</Txt>
      {/* character legend */}
      <Txt x={668} y={25}>{legendTitle}</Txt>
      {legendItems.map((s, i) => <Txt key={s} x={668} y={58 + i * 33.4}>{s}</Txt>)}
      <Txt x={929} y={82}>{depthTitle}</Txt>
      {depthLabels.map((d, i) => (
        <React.Fragment key={d}>
          <div style={{ position: "absolute", left: 910, top: depthY[i] - 6, width: 12, height: 12 }}><Marker kind={d} /></div>
          <Txt x={d === "5" ? 943 : 934} y={depthY[i]} anchor="left">{d}</Txt>
        </React.Fragment>
      ))}
      <div style={{ position: "absolute", left: 707, top: 323, whiteSpace: "nowrap", fontFamily: FONT, fontSize: 18, color: "#222", lineHeight: "20px" }}>
        <b>&gt;</b> Mayor que la media global
      </div>
      <div style={{ position: "absolute", left: 705, top: 357, whiteSpace: "nowrap", fontFamily: FONT, fontSize: 18, color: "#222", lineHeight: "20px" }}>
        <b>&lt;</b> Menor que la media global
      </div>
    </div>
  );
}
